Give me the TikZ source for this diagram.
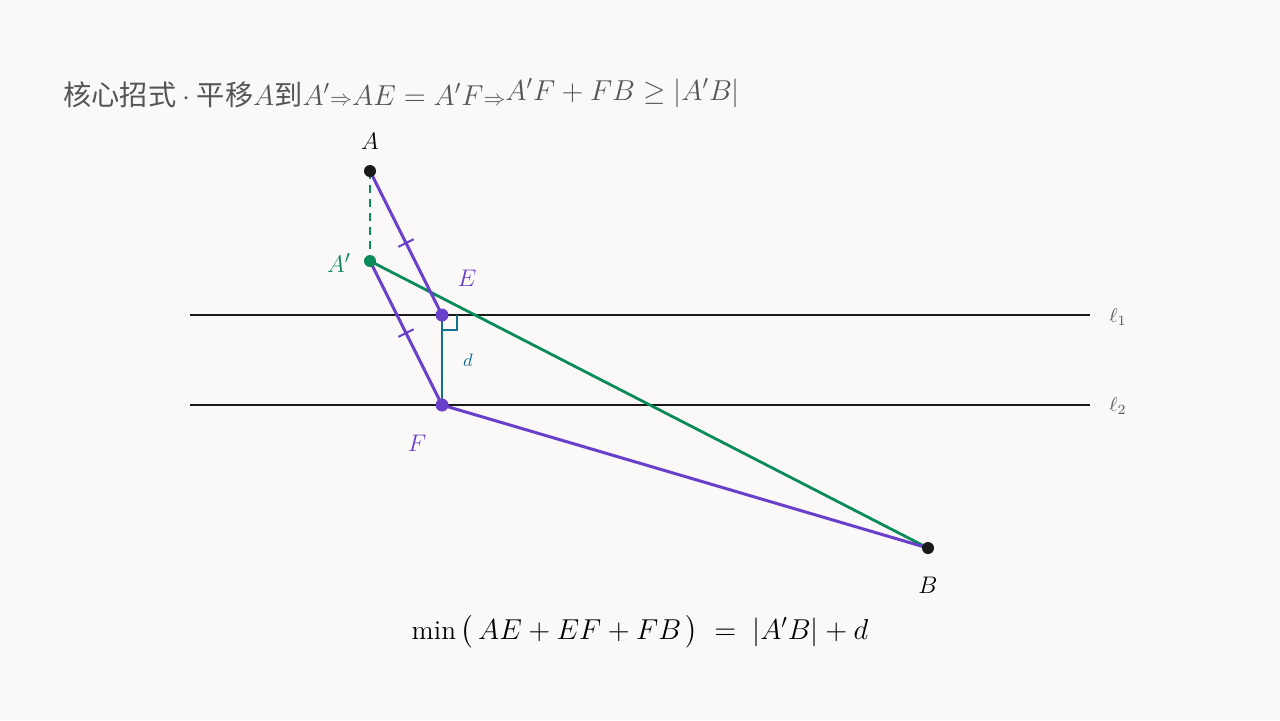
\documentclass[tikz,border=0pt]{standalone}
\usepackage{amssymb,amsmath}
\usepackage{fontspec}
\newfontfamily\cjk{Noto Sans CJK SC}
\usetikzlibrary{positioning,calc}
\definecolor{bgpaper}{HTML}{FAF9F7}
\definecolor{violetline}{HTML}{6A3FC9}
\definecolor{greenline}{HTML}{0B8A5C}
\definecolor{tealline}{HTML}{136F8F}
\definecolor{titlegray}{HTML}{555555}
\tikzstyle{parallel} = [line width=1pt, black!90]
\tikzstyle{violetseg} = [line width=1.5pt, violetline]
\tikzstyle{greenseg} = [line width=1.4pt, greenline]
\tikzstyle{blackdot} = [circle, fill=black!90, inner sep=0, minimum size=6pt]
\tikzstyle{violetdot} = [circle, fill=violetline, inner sep=0, minimum size=6.5pt]
\tikzstyle{greendot} = [circle, fill=greenline, inner sep=0, minimum size=6pt]
\tikzstyle{tickmark} = [sloped, draw=violetline, line width=1pt, minimum width=0, minimum height=8.5pt, inner sep=0]
\tikzstyle{ptlabel} = [font=\fontsize{12.5}{14}\selectfont]
\newcommand{\smallimp}{\hbox{\fontsize{10.5}{12}\selectfont$\Rightarrow$}}

\begin{document}
\begin{tikzpicture}[x=0.5pt, y=-0.5pt]
    \fill [bgpaper] (0,0) rectangle (1280,720);
    \useasboundingbox (0,0) rectangle (1280,720);
    % title
    \node (title) [anchor=west, text=titlegray, font=\fontsize{14.1}{16}\selectfont, inner sep=0] at (63,93)
        {\cjk 核心招式\ $\cdot$\ 平移$A$到$A'$\smallimp$AE=A'F$\smallimp\raisebox{2.5pt}{$A'F+FB\geq|A'B|$}};
    % the two parallel lines
    \coordinate (l1w) at (190,315);
    \coordinate (l1e) at (1090,315);
    \coordinate (l2w) at (190,405);
    \coordinate (l2e) at (1090,405);
    \draw [parallel] (l1w) -- (l1e);
    \draw [parallel] (l2w) -- (l2e);
    \node (ell1) [text=titlegray, font=\normalsize] at (1118,317) {$\ell_1$};
    \node (ell2) [text=titlegray, font=\normalsize] at (1118,406) {$\ell_2$};
    % points
    \coordinate (A) at (370,171);
    \coordinate (Ap) at (370,261);
    \coordinate (E) at (442,315);
    \coordinate (F) at (442,405);
    \coordinate (B) at (928,548);
    % segments
    \draw [greenline, line width=1pt, dash pattern=on 4pt off 3pt] (A) -- (Ap);
    \draw [greenseg] (Ap) -- (B);
    \draw [tealline, line width=1.4pt] (E) -- (F);
    \draw [tealline, line width=1pt] ($(E)+(15,0)$) -- ($(E)+(15,15)$) -- ($(E)+(0,15)$);
    \draw [violetseg] (A) -- node[tickmark] {} (E);
    \draw [violetseg] (Ap) -- node[tickmark] {} (F);
    \draw [violetseg] (F) -- (B);
    % dots
    \node (dotA) [blackdot] at (A) {};
    \node (dotAp) [greendot] at (Ap) {};
    \node (dotE) [violetdot] at (E) {};
    \node (dotF) [violetdot] at (F) {};
    \node (dotB) [blackdot] at (B) {};
    % labels
    \node (labA) [ptlabel] at (370,141) {$A$};
    \node (labAp) [ptlabel, text=greenline] at (339,263) {$A'$};
    \node (labE) [ptlabel, text=violetline] at (467,278) {$E$};
    \node (labF) [ptlabel, text=violetline] at (417,443) {$F$};
    \node (labB) [ptlabel] at (928,585) {$B$};
    \node (labd) [text=tealline, font=\small] at (468,360) {$d$};
    % result
    \node (result) [font=\fontsize{13.6}{16}\selectfont] at (640,632)
        {$\min\,\bigl(\,AE+EF+FB\,\bigr)\;=\;|A'B|+d$};
\end{tikzpicture}
\end{document}
